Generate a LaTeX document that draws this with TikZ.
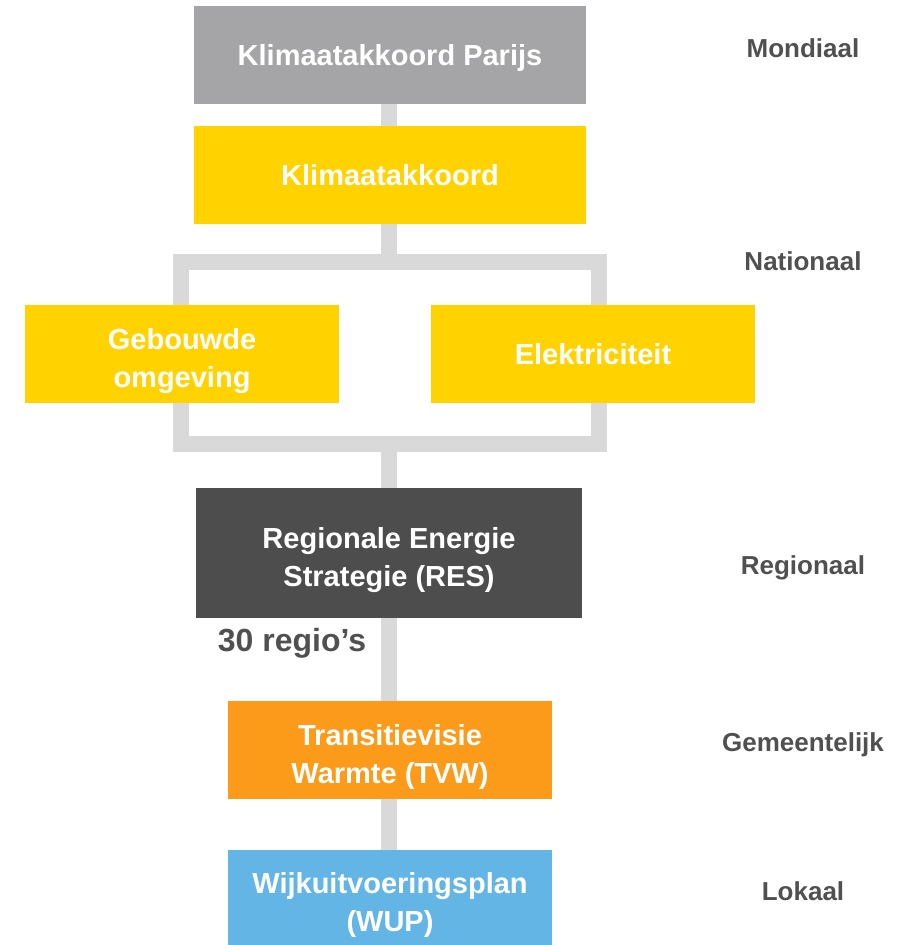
\documentclass[tikz,border=0pt]{standalone}
\usepackage{fontspec}
\setmainfont{Liberation Sans}
\usepackage{tikz}
\usetikzlibrary{backgrounds}

\definecolor{parijsgray}{HTML}{A5A5A7}
\definecolor{akkoordyellow}{HTML}{FFD200}
\definecolor{resdark}{HTML}{4D4D4D}
\definecolor{tvworange}{HTML}{FC9A1A}
\definecolor{wupblue}{HTML}{63B5E5}
\definecolor{linkgray}{HTML}{D9D9D9}
\definecolor{labelgray}{HTML}{505050}

\tikzset{
  box/.style={minimum height=98pt, inner sep=0pt, align=center, text=white,
    font=\fontsize{29}{38}\selectfont\bfseries},
  oneline/.style={text depth=0pt},
  twoline/.style={text height=67pt, text depth=0pt},
  level/.style={text=labelgray, font=\fontsize{26}{30}\selectfont\bfseries},
  link/.style={draw=linkgray, line width=16pt, line join=miter}
}

\begin{document}
\begin{tikzpicture}[x=1pt, y=-1pt]
    \useasboundingbox (0,0) rectangle (907,945);
    \node[box, oneline, fill=parijsgray, minimum width=392pt] (parijs) at (390, 55) {Klimaatakkoord Parijs};
    \node[box, oneline, fill=akkoordyellow, minimum width=392pt] (akkoord) at (390, 175) {Klimaatakkoord};
    \node[box, twoline, fill=akkoordyellow, minimum width=314pt] (gebouwd) at (182, 354) {Gebouwde\\omgeving};
    \node[box, oneline, fill=akkoordyellow, minimum width=324pt] (elek) at (593, 354) {Elektriciteit};
    \node[box, twoline, fill=resdark, minimum width=386pt, minimum height=130pt] (res) at (389, 553) {Regionale Energie\\Strategie (RES)};
    \node[box, twoline, fill=tvworange, minimum width=324pt] (tvw) at (390, 750) {Transitievisie\\Warmte (TVW)};
    \node[box, twoline, fill=wupblue, minimum width=324pt, minimum height=95pt] (wup) at (390, 897.5) {Wijkuitvoeringsplan\\(WUP)};
    \node[text=labelgray, font=\fontsize{32}{36}\selectfont\bfseries] (regios) at (292, 643) {30 regio’s};
    \node[level] (mondiaal) at (803, 48) {Mondiaal};
    \node[level] (nationaal) at (803, 261) {Nationaal};
    \node[level] (regionaal) at (803, 568) {Regionaal};
    \node[level] (gemeente) at (803, 745) {Gemeentelijk};
    \node[level] (lokaal) at (803, 891) {Lokaal};
    \coordinate (topfork) at (389, 261.5);
    \coordinate (forkL) at (180.5, 261.5);
    \coordinate (forkR) at (599, 261.5);
    \coordinate (botL) at (180.5, 444);
    \coordinate (botR) at (599, 444);
    \coordinate (botfork) at (389, 444);
    \begin{pgfonlayer}{background}
    \draw[link] (parijs.south -| topfork) -- (akkoord.north -| topfork);
    \draw[link] (akkoord.south -| topfork) -- (topfork);
    \draw[link] (forkL) -- (forkR) -- (botR) -- (botL) -- cycle;
    \draw[link] (botfork) -- (res.north -| botfork);
    \draw[link] (res.south -| botfork) -- (tvw.north -| botfork);
    \draw[link] (tvw.south -| botfork) -- (wup.north -| botfork);
    \end{pgfonlayer}
\end{tikzpicture}
\end{document}
